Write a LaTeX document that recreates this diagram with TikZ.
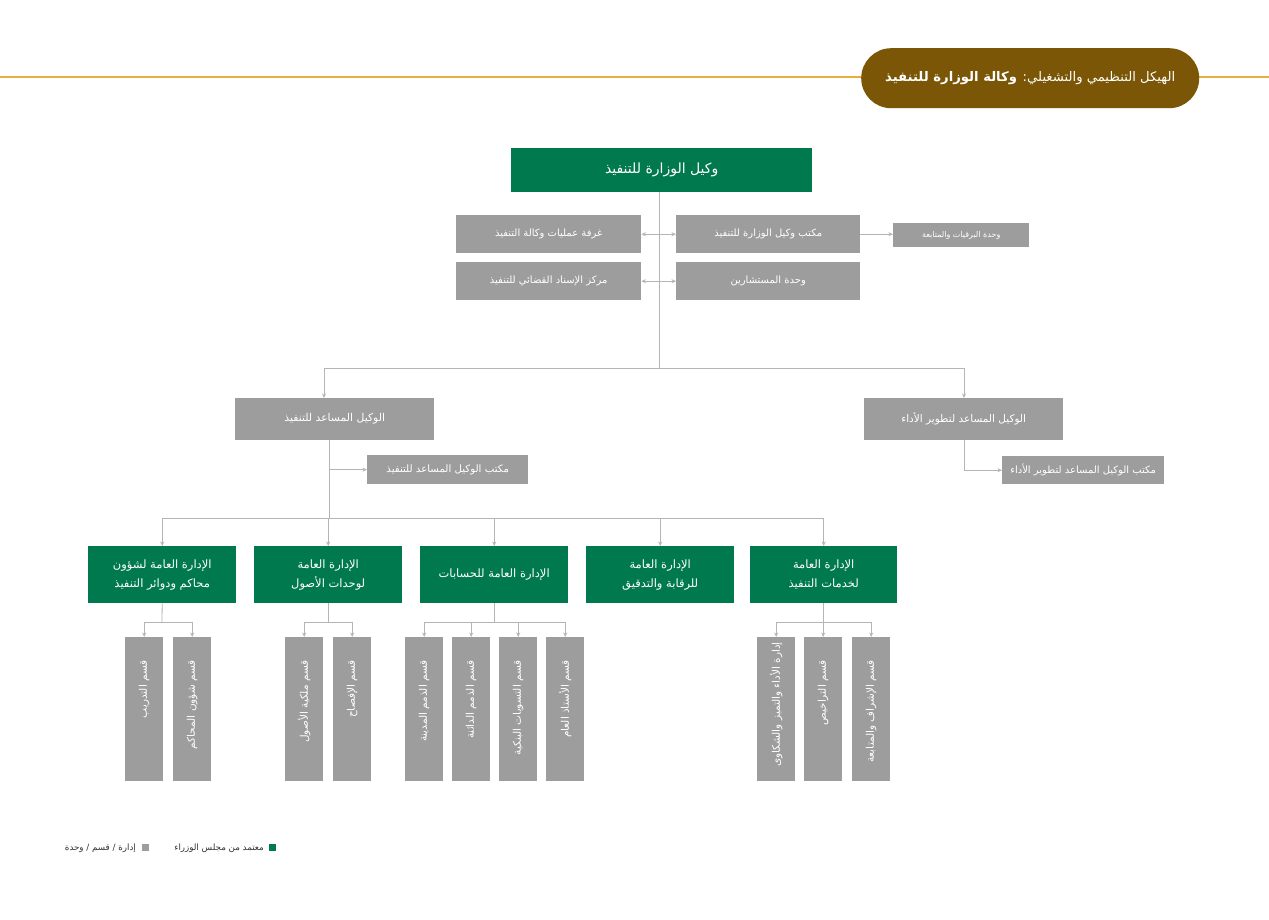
\documentclass[tikz,border=0pt]{standalone}
\usepackage{fontspec}
\usetikzlibrary{arrows.meta}
\TeXXeTstate=1
\newfontfamily\arabicfont[Script=Arabic]{DejaVu Sans}
\newcommand\AR[1]{{\arabicfont\beginR #1\endR}}
\definecolor{mojgreen}{HTML}{00794F}
\definecolor{boxgray}{HTML}{9D9D9D}
\definecolor{linegray}{HTML}{B5B5B5}
\definecolor{pillbrown}{HTML}{7A5606}
\definecolor{goldline}{HTML}{E3B13A}
\tikzset{
  gbox/.style={fill=mojgreen, text=white, inner sep=0pt, align=center, anchor=north west},
  ybox/.style={fill=boxgray, text=white, inner sep=0pt, align=center, anchor=north west},
  vtext/.style={text=white, inner sep=0pt, rotate=90, anchor=east, font=\fontsize{10.5}{12}\selectfont},
  plain/.style={draw=linegray, line width=0.8pt},
  conn/.style={draw=linegray, line width=0.8pt, -{Stealth[length=4.5pt,width=4pt]}},
  dconn/.style={draw=linegray, line width=0.8pt, {Stealth[length=4.5pt,width=4pt]}-{Stealth[length=4.5pt,width=4pt]}},
}
\begin{document}
\begin{tikzpicture}[x=1pt,y=-1pt]
\useasboundingbox (0,0) rectangle (1269,919);
\fill[white] (0,0) rectangle (1269,919);
% header
\draw[goldline, line width=2pt] (0,77) -- (1269,77);
\node[fill=pillbrown, rounded corners=30pt, minimum width=338pt, minimum height=60pt, inner sep=0pt, anchor=north west, text=white,
  font=\fontsize{13.2}{15}\selectfont] (title) at (861,48)
  {\AR{الهيكل التنظيمي والتشغيلي: \textbf{وكالة الوزارة للتنفيذ}}};

% top level
\node[gbox, minimum width=301pt, minimum height=44pt, font=\fontsize{14}{16}\selectfont] (top) at (511,148) {\AR{وكيل الوزارة للتنفيذ}};
\node[ybox, minimum width=185pt, minimum height=38pt, font=\fontsize{10}{12}\selectfont] (ops) at (456,215) {\AR{غرفة عمليات وكالة التنفيذ}};
\node[ybox, minimum width=184pt, minimum height=38pt, font=\fontsize{10}{12}\selectfont] (office) at (676,215) {\AR{مكتب وكيل الوزارة للتنفيذ}};
\node[ybox, minimum width=136pt, minimum height=24pt, font=\fontsize{8}{10}\selectfont] (telegram) at (893,223) {\AR{وحدة البرقيات والمتابعة}};
\node[ybox, minimum width=185pt, minimum height=38pt, font=\fontsize{10}{12}\selectfont] (judicial) at (456,262) {\AR{مركز الإسناد القضائي للتنفيذ}};
\node[ybox, minimum width=184pt, minimum height=38pt, font=\fontsize{10}{12}\selectfont] (advisors) at (676,262) {\AR{وحدة المستشارين}};

% assistants
\node[ybox, minimum width=199pt, minimum height=42pt, font=\fontsize{10.8}{13}\selectfont] (asstExec) at (235,398) {\AR{الوكيل المساعد للتنفيذ}};
\node[ybox, minimum width=161pt, minimum height=29pt, font=\fontsize{10.2}{12}\selectfont] (asstExecOff) at (367,455) {\AR{مكتب الوكيل المساعد للتنفيذ}};
\node[ybox, minimum width=199pt, minimum height=42pt, font=\fontsize{10.5}{13}\selectfont] (asstPerf) at (864,398) {\AR{الوكيل المساعد لتطوير الأداء}};
\node[ybox, minimum width=162pt, minimum height=28pt, font=\fontsize{10}{12}\selectfont] (asstPerfOff) at (1002,456) {\AR{مكتب الوكيل المساعد لتطوير الأداء}};

% general departments
\tikzset{dept/.style={gbox, minimum height=57pt, font=\fontsize{11.5}{19}\selectfont}}
\node[dept, minimum width=148pt] (d1) at (88,546) {\AR{الإدارة العامة لشؤون}\\\AR{محاكم ودوائر التنفيذ}};
\node[dept, minimum width=148pt] (d2) at (254,546) {\AR{الإدارة العامة}\\\AR{لوحدات الأصول}};
\node[dept, minimum width=148pt] (d3) at (420,546) {\AR{الإدارة العامة للحسابات}};
\node[dept, minimum width=148pt] (d4) at (586,546) {\AR{الإدارة العامة}\\\AR{للرقابة والتدقيق}};
\node[dept, minimum width=147pt] (d5) at (750,546) {\AR{الإدارة العامة}\\\AR{لخدمات التنفيذ}};

% sections (boxes)
\tikzset{sec/.style={ybox, minimum width=38pt, minimum height=144pt}}
\node[sec] (s1) at (125,637) {};
\node[sec] (s2) at (173,637) {};
\node[sec] (s3) at (285,637) {};
\node[sec] (s4) at (333,637) {};
\node[sec] (s5) at (405,637) {};
\node[sec] (s6) at (452,637) {};
\node[sec] (s7) at (499,637) {};
\node[sec] (s8) at (546,637) {};
\node[sec] (s9) at (757,637) {};
\node[sec] (s10) at (804,637) {};
\node[sec] (s11) at (852,637) {};
% section labels
\node[vtext] (t1) at (s1.north |- 0,660) {\AR{قسم التدريب}};
\node[vtext] (t2) at (s2.north |- 0,660) {\AR{قسم شؤون المحاكم}};
\node[vtext] (t3) at (s3.north |- 0,660) {\AR{قسم ملكية الأصول}};
\node[vtext] (t4) at (s4.north |- 0,660) {\AR{قسم الإفصاح}};
\node[vtext] (t5) at (s5.north |- 0,660) {\AR{قسم الذمم المدينة}};
\node[vtext] (t6) at (s6.north |- 0,660) {\AR{قسم الذمم الدائنة}};
\node[vtext] (t7) at (s7.north |- 0,660) {\AR{قسم التسويات البنكية}};
\node[vtext] (t8) at (s8.north |- 0,660) {\AR{قسم الأستاذ العام}};
\node[vtext] (t9) at (s9.north |- 0,642) {\AR{إدارة الأداء والتميز والشكاوى}};
\node[vtext] (t10) at (s10.north |- 0,660) {\AR{قسم التراخيص}};
\node[vtext] (t11) at (s11.north |- 0,660) {\AR{قسم الإشراف والمتابعة}};

% connectors: top
\coordinate (hub) at (659,368);
\coordinate (hubL) at (324,368);
\coordinate (hubR) at (964,368);
\draw[plain] (top.south -| hub) -- (hub);
\draw[plain] (hubL) -- (hubR);
\draw[conn] (hubL) -- (asstExec.north -| hubL);
\draw[conn] (hubR) -- (asstPerf.north -| hubR);
\draw[dconn] (ops.east) -- (office.west);
\draw[dconn] (judicial.east) -- (advisors.west);
\draw[conn] (office.east) -- (telegram.west |- office.east);

% assistant for execution
\coordinate (hubE) at (329,518);
\draw[plain] (asstExec.south -| hubE) -- (hubE);
\draw[conn] (asstExecOff.west -| hubE) -- (asstExecOff.west);
\draw[conn] (asstPerf.south -| hubR) |- (asstPerfOff.west);
\draw[plain] (d1.north |- hubE) -- (d5.north |- hubE);
\foreach \d in {d1,d2,d3,d4,d5} \draw[conn] (\d.north |- hubE) -- (\d.north);

% departments to sections
\coordinate (g1) at (162,622);
\coordinate (g2) at (328,622);
\coordinate (g3) at (494,622);
\coordinate (g5) at (823,622);
\draw[plain] (d1.south) -- (g1);
\draw[plain] (d2.south -| g2) -- (g2);
\draw[plain] (d3.south -| g3) -- (g3);
\draw[plain] (d5.south -| g5) -- (g5);
\draw[plain] (s1.north |- g1) -- (s2.north |- g1);
\draw[plain] (s3.north |- g2) -- (s4.north |- g2);
\draw[plain] (s5.north |- g3) -- (s8.north |- g3);
\draw[plain] (s9.north |- g5) -- (s11.north |- g5);
\foreach \s in {s1,s2} \draw[conn] (\s.north |- g1) -- (\s.north);
\foreach \s in {s3,s4} \draw[conn] (\s.north |- g2) -- (\s.north);
\foreach \s in {s5,s6,s7,s8} \draw[conn] (\s.north |- g3) -- (\s.north);
\foreach \s in {s9,s10,s11} \draw[conn] (\s.north |- g5) -- (\s.north);

% legend
\node[fill=mojgreen, minimum size=7pt, inner sep=0pt, anchor=north west] (lg) at (269,844) {};
\node[anchor=east, inner sep=0pt, font=\fontsize{8.7}{10}\selectfont, text=black!80] (lgt) at (264,848) {\AR{معتمد من مجلس الوزراء}};
\node[fill=boxgray, minimum size=7pt, inner sep=0pt, anchor=north west] (ly) at (142,844) {};
\node[anchor=east, inner sep=0pt, font=\fontsize{8.7}{10}\selectfont, text=black!80] (lyt) at (136,848) {\AR{إدارة / قسم / وحدة}};
\end{tikzpicture}
\end{document}
